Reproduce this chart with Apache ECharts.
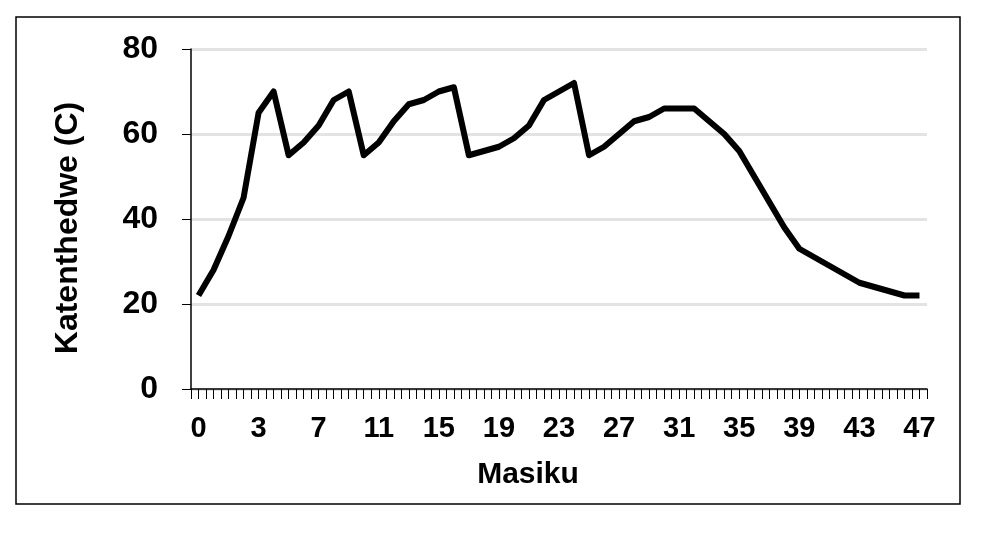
<!DOCTYPE html>
<html>
<head>
<meta charset="utf-8">
<script src="https://cdn.jsdelivr.net/npm/echarts@6/dist/echarts.min.js"></script>
<style>
html,body{margin:0;padding:0;background:#fff;}
#chart{width:984px;height:534px;}
</style>
</head>
<body>
<div id="chart"></div>
<script>
var days = ["0","0.5","1","2","3","4","5","6","7","8","9","10","11","12","13","14","15","16","17","18","19","20","21","22","23","24","25","26","27","28","29","30","31","32","33","34","35","36","37","38","39","40","41","42","43","44","45","46","47"];
var temperature = [22,28,36,45,65,70,55,58,62,68,70,55,58,63,67,68,70,71,55,56,57,59,62,68,70,72,55,57,60,63,64,66,66,66,63,60,56,50,44,38,33,31,29,27,25,24,23,22,22];
var yTicks = {min:0, max:80, step:20};
var xTitle = "Masiku";
var yTitle = "Katenthedwe (C)";

var FONT = "'Liberation Sans', Arial, sans-serif";
var chart = echarts.init(document.getElementById('chart'), null, {renderer:'canvas'});
chart.setOption({
  animation:false,
  backgroundColor:'#fff',
  grid:{left:191, right:57, top:49, bottom:145, containLabel:false},
  graphic:[{type:'rect', shape:{x:16,y:17,width:944,height:487}, style:{fill:null, stroke:'#000', lineWidth:1.5}, silent:true}],
  xAxis:[{
    type:'category', data:days, boundaryGap:true, position:'bottom',
    name:xTitle, nameLocation:'middle', nameGap:71,
    nameTextStyle:{fontFamily:FONT, fontWeight:'bold', fontSize:30, color:'#000', padding:[0,62,0,0]},
    axisLine:{show:true, lineStyle:{color:'#000', width:1.5}},
    axisTick:{show:true, interval:0, length:10, lineStyle:{color:'#000', width:1}},
    axisLabel:{interval:3, margin:25, fontFamily:FONT, fontWeight:'bold', fontSize:29, color:'#000'},
    splitLine:{show:false}
  },{
    type:'category', data:days, boundaryGap:true, position:'bottom',
    axisLine:{show:false},
    axisTick:{show:true, interval:0, alignWithLabel:true, length:10, lineStyle:{color:'#000', width:1}},
    axisLabel:{show:false},
    splitLine:{show:false}
  }],
  yAxis:{
    type:'value', min:yTicks.min, max:yTicks.max, interval:yTicks.step,
    name:yTitle, nameLocation:'middle', nameGap:107, nameRotate:90,
    nameTextStyle:{fontFamily:FONT, fontWeight:'bold', fontSize:32, color:'#000', padding:[0,18,0,0]},
    axisLine:{show:true, lineStyle:{color:'#000', width:1.5}},
    axisTick:{show:true, length:9, lineStyle:{color:'#000', width:1}},
    axisLabel:{margin:33, fontFamily:FONT, fontWeight:'bold', fontSize:32, color:'#000'},
    splitLine:{show:true, lineStyle:{color:'#e3e3e3', width:3}}
  },
  series:[{
    type:'line', data:temperature, xAxisIndex:0, showSymbol:false, symbol:'none',
    lineStyle:{color:'#000', width:6, join:'round'},
    silent:true
  }]
});
</script>
</body>
</html>
